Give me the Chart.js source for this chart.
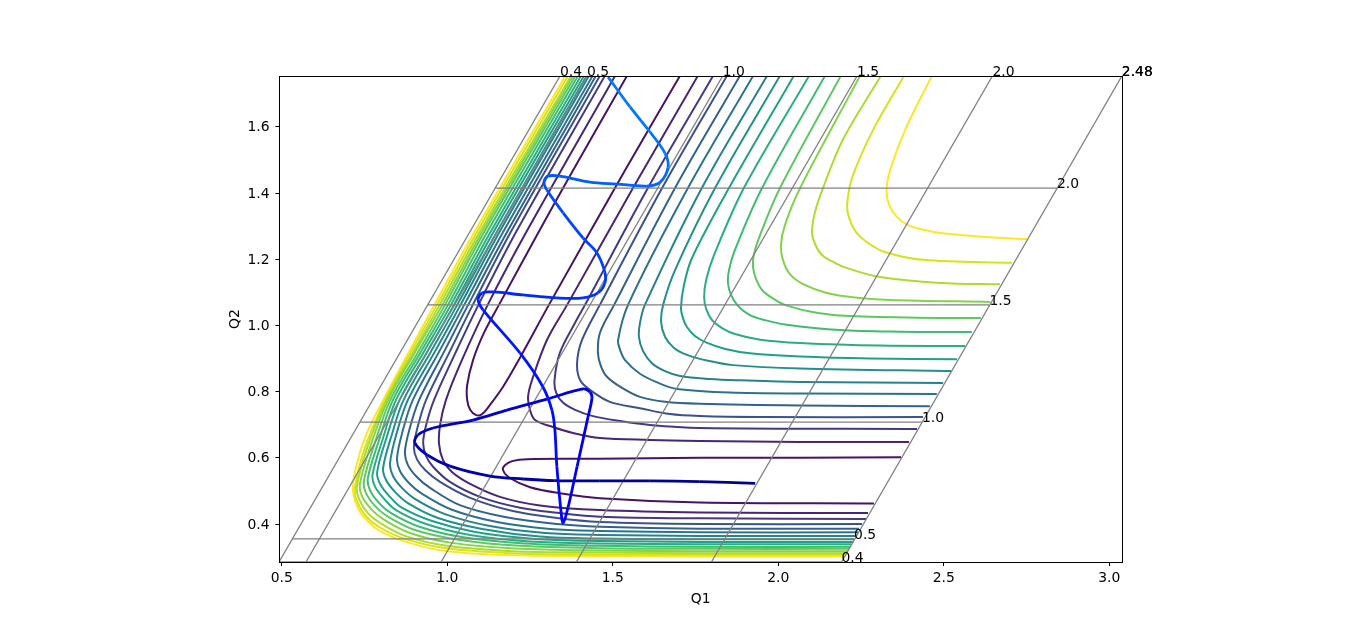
<!DOCTYPE html>
<html>
<head>
<meta charset="utf-8">
<title>Contours</title>
<script src="https://cdn.jsdelivr.net/npm/chart.js@4/dist/chart.umd.min.js"></script>
<style>
body { margin: 0; background: #fff; }
canvas { display: block; }
</style>
</head>
<body>
<canvas id="grafico" width="1366" height="632"></canvas>
<script>
// tick labels
const q1Ticks = [0.5, 1.0, 1.5, 2.0, 2.5, 3.0];
const q2Ticks = [0.4, 0.6, 0.8, 1.0, 1.2, 1.4, 1.6];

// skewed grid: r1 lines run bottom to top, r2 lines run left to right
const gridLabels = ["0.4", "0.5", "1.0", "1.5", "2.0", "2.48"];
const r1BottomQ1 = [0.4915, 0.573, 0.981, 1.390, 1.798, 2.191];
const r1TopQ1 = [1.3405, 1.422, 1.832, 2.238, 2.647, 3.038];
const r2Q2 = [0.2852, 0.355, 0.708, 1.062, 1.415, 1.7535];
const r2StartQ1 = [0.4915, 0.531, 0.736, 0.940, 1.144, 1.3405];
const r2EndQ1 = [2.191, 2.229, 2.434, 2.638, 2.842, 3.038];

// viridis, one colour per level
const levelColors = ["#471365", "#482576", "#443983", "#3b528b", "#33638d", "#2c728e", "#26828e", "#21918c",
    "#1fa088", "#28ae80", "#3fbc73", "#5ec962", "#84d44b", "#addc30", "#d8e219", "#fde725"];

// level 1, two closed-off valley pieces
const valleyUpper = [[1.543,1.754],[1.380,1.469],[1.271,1.273],[1.156,1.062],[1.111,0.978],[1.078,0.896],[1.060,0.820],[1.060,0.775],[1.069,0.745],[1.087,0.729],[1.105,0.732],[1.129,0.760],[1.168,0.814],[1.211,0.887],[1.307,1.062],[1.537,1.469],[1.703,1.754]];
const valleyLower = [[2.371,0.602],[2.066,0.600],[1.763,0.600],[1.461,0.597],[1.241,0.596],[1.196,0.590],[1.175,0.578],[1.168,0.564],[1.189,0.539],[1.250,0.511],[1.340,0.493],[1.461,0.478],[1.763,0.465],[2.289,0.462]];

// levels 2-16, repulsive wall side
const wall2 = [[1.507,1.754],[1.242,1.288],[1.122,1.062],[1.044,0.895],[0.996,0.775],[0.978,0.699],[0.975,0.642],[0.987,0.593],[1.014,0.557],[1.069,0.521],[1.159,0.482],[1.280,0.456],[1.461,0.442],[1.763,0.435],[2.271,0.433]];
const wall3 = [[1.476,1.754],[1.211,1.288],[1.094,1.062],[1.026,0.920],[0.960,0.775],[0.936,0.699],[0.927,0.645],[0.936,0.605],[0.957,0.573],[1.008,0.527],[1.099,0.482],[1.220,0.449],[1.331,0.434],[1.461,0.422],[1.763,0.417],[2.265,0.415]];
const wall4 = [[1.461,1.754],[1.195,1.288],[1.077,1.062],[1.007,0.920],[0.936,0.775],[0.912,0.699],[0.899,0.633],[0.908,0.596],[0.933,0.563],[0.978,0.527],[1.069,0.479],[1.198,0.439],[1.331,0.418],[1.461,0.406],[1.763,0.400],[2.253,0.400]];
const wall5 = [[1.449,1.754],[1.184,1.288],[1.063,1.062],[0.990,0.920],[0.915,0.775],[0.887,0.691],[0.872,0.618],[0.881,0.578],[0.908,0.542],[0.948,0.509],[1.038,0.457],[1.174,0.421],[1.331,0.400],[1.461,0.392],[1.763,0.386],[2.244,0.386]];
const wall6 = [[1.439,1.754],[1.172,1.288],[1.051,1.062],[0.975,0.920],[0.896,0.775],[0.866,0.684],[0.848,0.599],[0.857,0.560],[0.884,0.524],[0.924,0.491],[1.014,0.443],[1.150,0.406],[1.310,0.385],[1.461,0.379],[1.763,0.375],[2.241,0.375]];
const wall7 = [[1.428,1.754],[1.161,1.288],[1.040,1.062],[0.962,0.920],[0.881,0.775],[0.848,0.678],[0.827,0.584],[0.836,0.545],[0.863,0.509],[0.902,0.476],[0.993,0.430],[1.129,0.394],[1.295,0.373],[1.461,0.367],[1.763,0.364],[2.235,0.364]];
const wall8 = [[1.421,1.754],[1.153,1.288],[1.030,1.062],[0.950,0.920],[0.868,0.775],[0.833,0.672],[0.806,0.569],[0.815,0.533],[0.842,0.497],[0.881,0.463],[0.972,0.418],[1.105,0.385],[1.280,0.362],[1.461,0.356],[1.763,0.354],[2.229,0.354]];
const wall9 = [[1.413,1.754],[1.143,1.288],[1.020,1.062],[0.939,0.920],[0.856,0.775],[0.818,0.666],[0.788,0.557],[0.797,0.521],[0.824,0.485],[0.860,0.451],[0.954,0.409],[1.084,0.376],[1.265,0.355],[1.461,0.349],[1.763,0.346],[2.226,0.346]];
const wall10 = [[1.404,1.754],[1.134,1.288],[1.011,1.062],[0.929,0.920],[0.845,0.775],[0.806,0.660],[0.774,0.548],[0.782,0.512],[0.809,0.476],[0.845,0.442],[0.936,0.400],[1.069,0.367],[1.250,0.347],[1.461,0.341],[1.763,0.339],[2.220,0.339]];
const wall11 = [[1.395,1.754],[1.124,1.288],[1.002,1.062],[0.920,0.920],[0.836,0.775],[0.794,0.654],[0.760,0.539],[0.766,0.503],[0.794,0.463],[0.830,0.433],[0.918,0.391],[1.053,0.359],[1.235,0.341],[1.461,0.334],[1.763,0.331],[2.217,0.331]];
const wall12 = [[1.387,1.754],[1.115,1.288],[0.993,1.062],[0.912,0.920],[0.828,0.775],[0.782,0.648],[0.748,0.530],[0.754,0.494],[0.782,0.454],[0.818,0.424],[0.902,0.382],[1.038,0.352],[1.220,0.334],[1.461,0.327],[1.763,0.325],[2.214,0.325]];
const wall13 = [[1.380,1.754],[1.108,1.288],[0.985,1.062],[0.903,0.920],[0.821,0.775],[0.770,0.642],[0.736,0.521],[0.742,0.485],[0.770,0.445],[0.806,0.415],[0.887,0.373],[1.014,0.343],[1.205,0.326],[1.461,0.320],[1.763,0.318],[2.211,0.318]];
const wall14 = [[1.374,1.754],[1.101,1.288],[0.977,1.062],[0.897,0.920],[0.816,0.775],[0.760,0.636],[0.727,0.515],[0.733,0.476],[0.760,0.433],[0.797,0.403],[0.872,0.364],[0.999,0.334],[1.195,0.318],[1.461,0.314],[1.763,0.312],[2.208,0.312]];
const wall15 = [[1.365,1.754],[1.093,1.288],[0.969,1.062],[0.890,0.920],[0.812,0.775],[0.751,0.630],[0.721,0.509],[0.727,0.469],[0.754,0.424],[0.794,0.391],[0.863,0.358],[0.987,0.328],[1.189,0.312],[1.461,0.308],[1.763,0.307],[2.205,0.307]];
const wall16 = [[1.357,1.754],[1.085,1.288],[0.961,1.062],[0.884,0.920],[0.807,0.775],[0.757,0.675],[0.724,0.572],[0.715,0.503],[0.724,0.463],[0.739,0.433],[0.766,0.403],[0.791,0.382],[0.857,0.352],[0.978,0.321],[1.180,0.306],[1.461,0.303],[1.763,0.302],[2.201,0.302]];

// levels 2-16, plateau side
const plateau2 = [[1.757,1.754],[1.561,1.415],[1.362,1.062],[1.301,0.956],[1.256,0.835],[1.244,0.784],[1.250,0.744],[1.265,0.714],[1.319,0.693],[1.380,0.675],[1.461,0.660],[1.612,0.654],[1.763,0.651],[2.066,0.648],[2.395,0.648]];
const plateau3 = [[1.803,1.754],[1.606,1.415],[1.416,1.062],[1.386,1.008],[1.340,0.917],[1.324,0.835],[1.329,0.796],[1.350,0.766],[1.386,0.745],[1.440,0.726],[1.522,0.711],[1.612,0.699],[1.763,0.690],[2.419,0.687]];
const plateau4 = [[1.845,1.754],[1.649,1.415],[1.461,1.062],[1.407,0.956],[1.392,0.886],[1.401,0.835],[1.431,0.805],[1.491,0.769],[1.582,0.750],[1.673,0.732],[1.763,0.726],[1.945,0.723],[2.437,0.723]];
const plateau5 = [[1.884,1.754],[1.688,1.415],[1.504,1.062],[1.461,0.977],[1.455,0.917],[1.464,0.877],[1.483,0.844],[1.528,0.811],[1.582,0.784],[1.658,0.769],[1.763,0.763],[2.066,0.758],[2.458,0.756]];
const plateau6 = [[1.924,1.754],[1.727,1.415],[1.546,1.062],[1.516,0.956],[1.522,0.926],[1.537,0.895],[1.582,0.854],[1.643,0.824],[1.694,0.808],[1.854,0.797],[2.066,0.794],[2.479,0.793]];
const plateau7 = [[1.966,1.754],[1.769,1.415],[1.597,1.062],[1.582,1.007],[1.579,0.965],[1.591,0.923],[1.618,0.886],[1.658,0.862],[1.703,0.847],[1.794,0.838],[1.884,0.834],[2.066,0.829],[2.498,0.826]];
const plateau8 = [[2.005,1.754],[1.809,1.415],[1.688,1.167],[1.652,1.062],[1.646,1.010],[1.658,0.965],[1.685,0.932],[1.724,0.911],[1.788,0.893],[1.863,0.880],[2.066,0.870],[2.522,0.862]];
const plateau9 = [[2.047,1.754],[1.851,1.415],[1.739,1.203],[1.715,1.122],[1.706,1.053],[1.712,1.022],[1.724,0.995],[1.748,0.968],[1.785,0.947],[1.840,0.929],[1.914,0.916],[2.066,0.906],[2.277,0.900],[2.540,0.898]];
const plateau10 = [[2.093,1.754],[1.896,1.415],[1.806,1.213],[1.782,1.137],[1.776,1.086],[1.782,1.050],[1.800,1.016],[1.830,0.992],[1.869,0.974],[1.945,0.957],[2.066,0.947],[2.307,0.939],[2.564,0.938]];
const plateau11 = [[2.141,1.754],[1.951,1.415],[1.869,1.228],[1.851,1.167],[1.848,1.128],[1.857,1.092],[1.878,1.059],[1.914,1.031],[1.960,1.016],[2.020,1.003],[2.186,0.986],[2.368,0.981],[2.585,0.980]];
const plateau12 = [[2.189,1.754],[2.005,1.415],[1.945,1.273],[1.926,1.213],[1.924,1.174],[1.933,1.140],[1.951,1.107],[1.981,1.083],[2.020,1.062],[2.096,1.042],[2.186,1.030],[2.389,1.024],[2.612,1.022]];
const plateau13 = [[2.247,1.754],[2.066,1.415],[2.020,1.303],[2.008,1.243],[2.014,1.198],[2.035,1.155],[2.075,1.125],[2.147,1.098],[2.232,1.084],[2.337,1.077],[2.640,1.071]];
const plateau14 = [[2.310,1.754],[2.195,1.561],[2.135,1.415],[2.111,1.343],[2.102,1.282],[2.111,1.246],[2.132,1.213],[2.171,1.189],[2.208,1.173],[2.307,1.146],[2.489,1.128],[2.670,1.124]];
const plateau15 = [[2.380,1.754],[2.286,1.590],[2.223,1.446],[2.208,1.364],[2.214,1.325],[2.235,1.282],[2.271,1.249],[2.322,1.222],[2.437,1.198],[2.706,1.189]];
const plateau16 = [[2.464,1.754],[2.383,1.590],[2.338,1.469],[2.327,1.409],[2.335,1.364],[2.358,1.328],[2.392,1.303],[2.443,1.288],[2.489,1.279],[2.625,1.267],[2.751,1.261]];

// trajectory, start (lower right) to end (top)
const trajectory = [[1.930,0.523],[1.763,0.528],[1.612,0.530],[1.461,0.530],[1.325,0.531],[1.229,0.536],[1.129,0.545],[1.008,0.575],[0.939,0.609],[0.902,0.645],[0.911,0.669],[0.957,0.690],[1.078,0.714],[1.180,0.744],[1.301,0.777],[1.410,0.808],[1.431,0.799],[1.437,0.781],[1.425,0.723],[1.392,0.573],[1.365,0.451],[1.350,0.403],[1.344,0.433],[1.331,0.573],[1.325,0.684],[1.316,0.744],[1.289,0.814],[1.220,0.916],[1.108,1.047],[1.093,1.077],[1.105,1.098],[1.138,1.101],[1.229,1.092],[1.331,1.083],[1.410,1.083],[1.455,1.098],[1.476,1.128],[1.476,1.161],[1.452,1.219],[1.410,1.264],[1.350,1.340],[1.301,1.409],[1.292,1.433],[1.304,1.451],[1.340,1.451],[1.431,1.433],[1.513,1.427],[1.603,1.421],[1.643,1.433],[1.667,1.478],[1.658,1.520],[1.612,1.585],[1.552,1.660],[1.486,1.750]];

const walls = [wall2, wall3, wall4, wall5, wall6, wall7, wall8, wall9, wall10, wall11, wall12, wall13, wall14, wall15, wall16];
const plateaus = [plateau2, plateau3, plateau4, plateau5, plateau6, plateau7, plateau8, plateau9, plateau10, plateau11, plateau12, plateau13, plateau14, plateau15, plateau16];

const toPoints = pares => pares.map(p => ({ x: p[0], y: p[1] }));

function contourDataset(pares, color) {
    return { data: toPoints(pares), borderColor: color, borderWidth: 2, tension: 0.34, pointRadius: 0, order: 3 };
}

function gridDataset(puntos) {
    return { data: puntos, borderColor: "#808080", borderWidth: 1.3, tension: 0, pointRadius: 0, order: 2 };
}

// dark blue at the start, opening up to azure at the far end
function trajectoryColor(t) {
    if (t < 0.4) return `rgb(0,0,${Math.round(140 + 115 * t / 0.4)})`;
    return `rgb(0,${Math.round(128 * (t - 0.4) / 0.6)},255)`;
}

const datasets = [];
datasets.push(contourDataset(valleyUpper, levelColors[0]));
datasets.push(contourDataset(valleyLower, levelColors[0]));
walls.forEach((w, i) => datasets.push(contourDataset(w, levelColors[i + 1])));
plateaus.forEach((p, i) => datasets.push(contourDataset(p, levelColors[i + 1])));

gridLabels.forEach((_, i) => {
    datasets.push(gridDataset([{ x: r1BottomQ1[i], y: r2Q2[0] }, { x: r1TopQ1[i], y: r2Q2[5] }]));
    datasets.push(gridDataset([{ x: r2StartQ1[i], y: r2Q2[i] }, { x: r2EndQ1[i], y: r2Q2[i] }]));
});

datasets.push({
    data: toPoints(trajectory),
    borderWidth: 2.8,
    borderColor: "#0000ff",
    tension: 0.34,
    pointRadius: 0,
    order: 1,
    segment: { borderColor: ctx => trajectoryColor(ctx.p0DataIndex / (trajectory.length - 1)) }
});

const fontFamily = "'DejaVu Sans', sans-serif";

// axes box and the grid's text labels
const marcoPlugin = {
    id: "marco",
    afterDraw(chart) {
        const { ctx, chartArea, scales } = chart;
        const left = Math.floor(chartArea.left) + 0.5;
        const top = Math.floor(chartArea.top) + 0.5;
        const right = Math.floor(chartArea.right) + 0.5;
        const bottom = Math.floor(chartArea.bottom) + 0.5;
        ctx.save();
        ctx.strokeStyle = "#000";
        ctx.lineWidth = 1;
        ctx.strokeRect(left, top, right - left, bottom - top);
        ctx.fillStyle = "#000";
        ctx.font = `13.9px ${fontFamily}`;
        ctx.textAlign = "left";
        ctx.textBaseline = "alphabetic";
        gridLabels.forEach((texto, i) => {
            ctx.fillText(texto, scales.x.getPixelForValue(r1TopQ1[i]), scales.y.getPixelForValue(r2Q2[5]));
            ctx.fillText(texto, scales.x.getPixelForValue(r2EndQ1[i]), scales.y.getPixelForValue(r2Q2[i]));
        });
        ctx.restore();
    }
};

new Chart(document.getElementById("grafico").getContext("2d"), {
    type: "line",
    data: { datasets },
    plugins: [marcoPlugin],
    options: {
        responsive: false,
        animation: false,
        events: [],
        layout: { padding: { left: 227, right: 244, top: 76, bottom: 24 } },
        plugins: { legend: { display: false }, tooltip: { enabled: false } },
        scales: {
            x: {
                type: "linear",
                min: 0.493,
                max: 3.0384,
                afterBuildTicks: s => { s.ticks = q1Ticks.map(v => ({ value: v })); },
                afterFit: s => { s.height = 46; },
                ticks: { color: "#000", font: { size: 13.9, family: fontFamily }, padding: 4, maxRotation: 0, callback: v => v.toFixed(1) },
                grid: { drawOnChartArea: false, color: "#000", tickLength: 4, tickColor: "#000" },
                border: { color: "#000" },
                title: { display: true, text: "Q1", color: "#000", font: { size: 13.9, family: fontFamily }, padding: 0 }
            },
            y: {
                type: "linear",
                min: 0.2852,
                max: 1.7535,
                afterBuildTicks: s => { s.ticks = q2Ticks.map(v => ({ value: v })); },
                afterFit: s => { s.width = 52.5; },
                ticks: { color: "#000", font: { size: 13.9, family: fontFamily }, padding: 6, labelOffset: 1, callback: v => v.toFixed(1) },
                grid: { drawOnChartArea: false, color: "#000", tickLength: 4, tickColor: "#000" },
                border: { color: "#000" },
                title: { display: true, text: "Q2", color: "#000", font: { size: 13.9, family: fontFamily }, padding: 0 }
            }
        }
    }
});
</script>
</body>
</html>
